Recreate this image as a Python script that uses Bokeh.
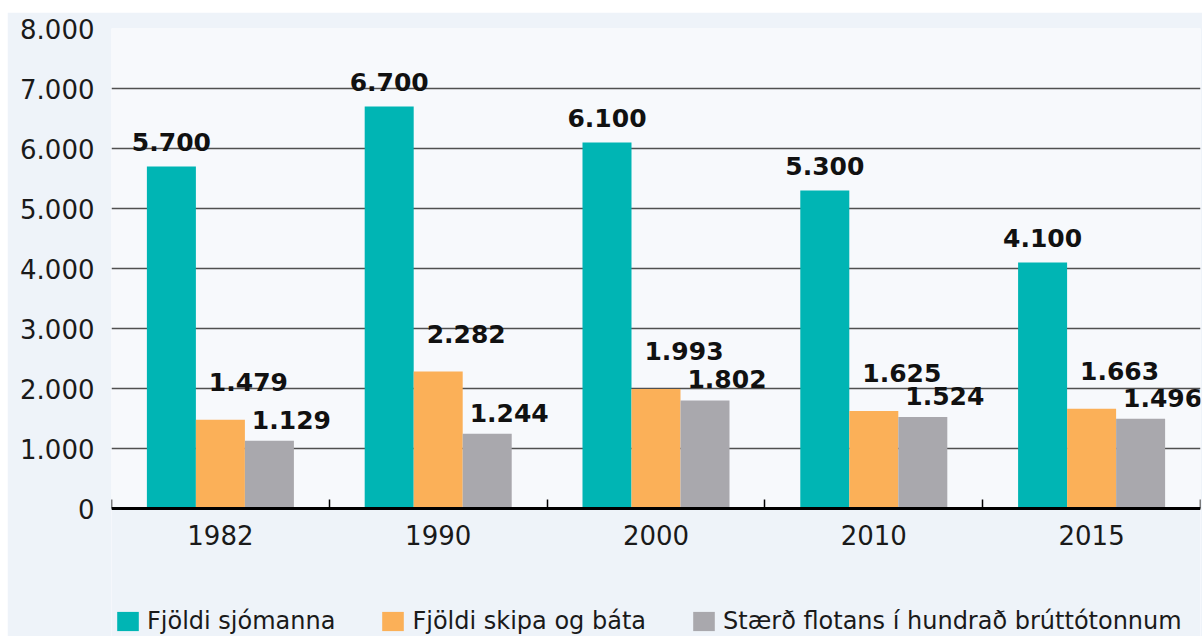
from bokeh.plotting import figure
from bokeh.models import FixedTicker, Legend, LegendItem, ColumnDataSource, Range1d, BoxAnnotation
from bokeh.core.properties import value
from bokeh.embed import file_html
from bokeh.resources import INLINE

years = ["1982", "1990", "2000", "2010", "2015"]
sjomenn = [5700, 6700, 6100, 5300, 4100]
skip = [1479, 2282, 1993, 1625, 1663]
flotinn = [1129, 1244, 1802, 1524, 1496]
series_names = ["Fjöldi sjómanna", "Fjöldi skipa og báta", "Stærð flotans í hundrað brúttótonnum"]
y_ticks = [0, 1000, 2000, 3000, 4000, 5000, 6000, 7000, 8000]

colors = ["#00b5b4", "#fbb058", "#a9a8ad"]
offsets = [-0.225, 0.0, 0.225]
lbl_dx = [0, 28, 22]
lbl_dy = [-25, -38, -21]
FONT = "DejaVu Sans"
BG_OUT = "#eef3f9"
BG_IN = "#f7f9fc"

W, H = 1195, 624
TOP, LEFT, RIGHT = 16, 104, 2
frame_h = H - TOP
axis_px = 480  # pixel height of the 0..8000 span
y_top = 8000
y_min = -y_top * (frame_h - axis_px) / axis_px


def fmt(v):
    return f"{v:,}".replace(",", ".")


p = figure(width=W, height=H, output_backend="svg", toolbar_location=None,
           x_range=Range1d(0.5, 5.5), y_range=Range1d(y_min, y_top),
           min_border_left=LEFT, min_border_right=RIGHT, min_border_top=TOP, min_border_bottom=0)
p.margin = (12, 0, 0, 7)
p.background_fill_color = BG_IN
p.border_fill_color = BG_OUT
p.outline_line_color = None

below = BoxAnnotation(top=0, fill_color=BG_OUT, fill_alpha=1, line_color=None, level="underlay")
p.add_layout(below)

xs = list(range(1, len(years) + 1))
items = []
for vals, name, col, off, dx, dy in zip([sjomenn, skip, flotinn], series_names, colors, offsets, lbl_dx, lbl_dy):
    src = ColumnDataSource(dict(x=[x + off for x in xs], top=vals, lab=[fmt(v) for v in vals]))
    r = p.vbar(x="x", top="top", width=0.225, bottom=0, source=src, fill_color=col, line_color=None)
    p.text(x="x", y="top", text="lab", source=src, text_align="center", text_baseline="alphabetic",
           x_offset=dx, y_offset=dy, text_font=value(FONT), text_font_style="bold",
           text_font_size="25px", text_color="#111111")
    items.append(LegendItem(label=name, renderers=[r]))

# y axis
p.yaxis.ticker = FixedTicker(ticks=y_ticks)
p.yaxis.major_label_overrides = {t: fmt(t) for t in y_ticks}
p.yaxis.axis_line_color = None
p.yaxis.major_tick_line_color = None
p.yaxis.minor_tick_line_color = None
p.yaxis.major_label_standoff = 11
p.yaxis.major_label_text_font = FONT
p.yaxis.major_label_text_font_size = "26px"
p.yaxis.major_label_text_color = "#1a1a1a"

# x axis, drawn at y = 0
p.xaxis.fixed_location = 0
p.xaxis.ticker = FixedTicker(ticks=xs, minor_ticks=[x - 0.5 for x in xs] + [xs[-1] + 0.5])
p.xaxis.major_label_overrides = {x: y for x, y in zip(xs, years)}
p.xaxis.axis_line_color = "black"
p.xaxis.axis_line_width = 3
p.xaxis.major_tick_line_color = None
p.xaxis.minor_tick_in = 9
p.xaxis.minor_tick_out = 0
p.xaxis.minor_tick_line_color = "black"
p.xaxis.minor_tick_line_width = 1.5
p.xaxis.major_label_standoff = 10
p.xaxis.major_label_text_font = FONT
p.xaxis.major_label_text_font_size = "26px"
p.xaxis.major_label_text_color = "#1a1a1a"

p.xgrid.grid_line_color = None
p.ygrid.grid_line_color = "#505050"
p.ygrid.grid_line_width = 1.3

legend = Legend(items=items, location=(3, 1), orientation="horizontal",
                glyph_width=27, glyph_height=24, label_height=24, label_standoff=6, spacing=44,
                padding=0, margin=0, border_line_color=None, background_fill_alpha=0,
                label_text_font=FONT, label_text_font_size="24px", label_text_color="#1a1a1a")
p.add_layout(legend, "center")

open("out.html", "w").write(file_html(p, INLINE))
